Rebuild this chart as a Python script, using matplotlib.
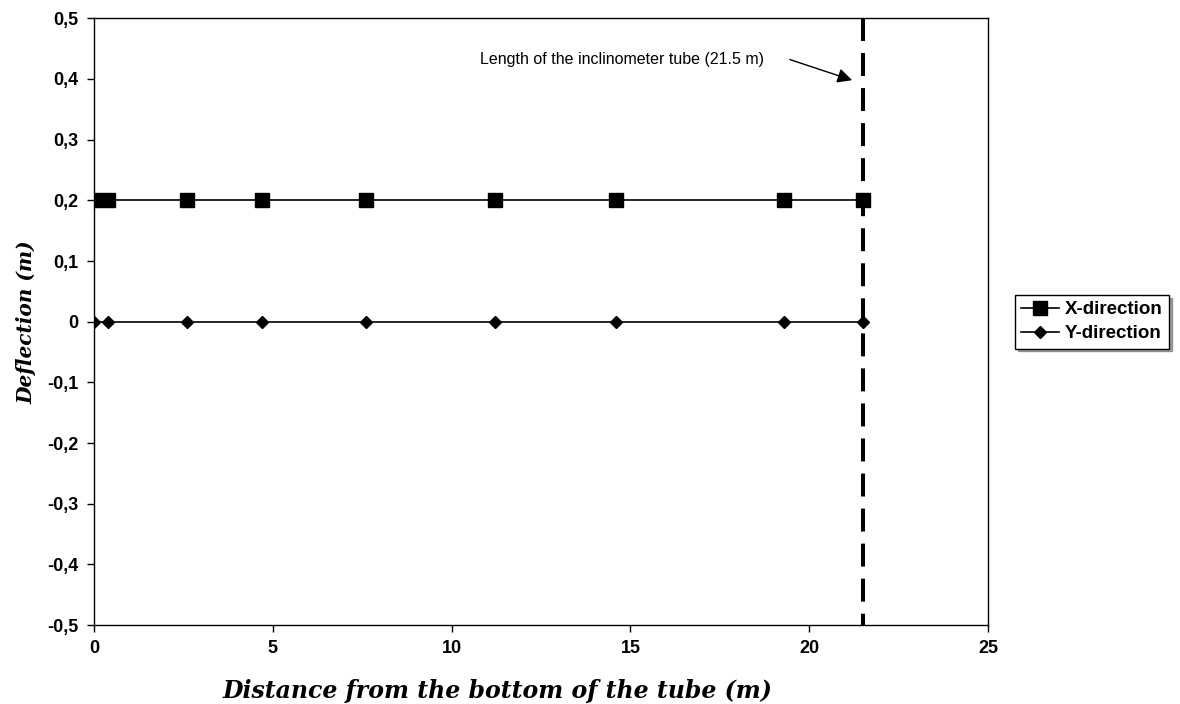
import matplotlib.pyplot as plt
from matplotlib.ticker import FuncFormatter

# distance from the bottom of the tube (m)
distance = [0, 0.4, 2.6, 4.7, 7.6, 11.2, 14.6, 19.3, 21.5]
x_defl = [0.2, 0.2, 0.2, 0.2, 0.2, 0.2, 0.2, 0.2, 0.2]
y_defl = [0, 0, 0, 0, 0, 0, 0, 0, 0]
tube_length = 21.5

plt.rcParams['font.family'] = ['Liberation Sans', 'DejaVu Sans']

fig = plt.figure(figsize=(11.8, 7.04), dpi=100)
ax = fig.add_axes([0.0797, 0.112, 0.7576, 0.862])

ax.plot(distance, x_defl, color='black', lw=1.2, marker='s', markersize=9.5,
        label='X-direction')
ax.plot(distance, y_defl, color='black', lw=1.2, marker='D', markersize=6,
        label='Y-direction')
# dashed marker of the tube length, drawn top-down so the dash starts at the top
ax.plot([tube_length, tube_length], [0.5, -0.5], color='black', lw=2.9,
        dashes=(5.7, 3.0), zorder=1)

ax.text(18.73, 0.432, 'Length of the inclinometer tube (21.5 m)',
        fontsize=11.5, ha='right', va='center')
ax.annotate('', xy=(21.2, 0.398), xytext=(19.46, 0.432),
            arrowprops=dict(arrowstyle='-|>', color='black', lw=1,
                            mutation_scale=22, shrinkA=0, shrinkB=0))

ax.set_xlim(0, 25)
ax.set_ylim(-0.5, 0.5)
ax.set_xticks(range(0, 26, 5))
ax.set_yticks([i / 10 for i in range(-5, 6)])


def comma_fmt(v, pos):
    if abs(v) < 1e-9:
        return '0'
    return f'{v:.1f}'.replace('.', ',')


ax.yaxis.set_major_formatter(FuncFormatter(comma_fmt))
ax.tick_params(direction='out', length=5, width=1, labelsize=13, pad=6)
for lab in ax.get_xticklabels() + ax.get_yticklabels():
    lab.set_fontweight('bold')
for sp in ax.spines.values():
    sp.set_linewidth(1)

lab_font = dict(family='DejaVu Serif', fontweight='bold', style='italic')
ax.set_xlabel('Distance from the bottom of the tube (m)', fontsize=17,
              **lab_font)
ax.xaxis.set_label_coords(0.451, -0.088)
ax.set_ylabel('Deflection (m)', fontsize=14.5, labelpad=8, **lab_font)

leg = ax.legend(loc='center left', bbox_to_anchor=(1.03, 0.5), frameon=True,
                fancybox=False, shadow=True, edgecolor='black',
                prop=dict(weight='bold', size=13.5), handlelength=2.0,
                handletextpad=0.3, borderpad=0.35, labelspacing=0.35,
                borderaxespad=0)
leg.get_frame().set_linewidth(1)

fig.savefig('out.png', dpi=100)
